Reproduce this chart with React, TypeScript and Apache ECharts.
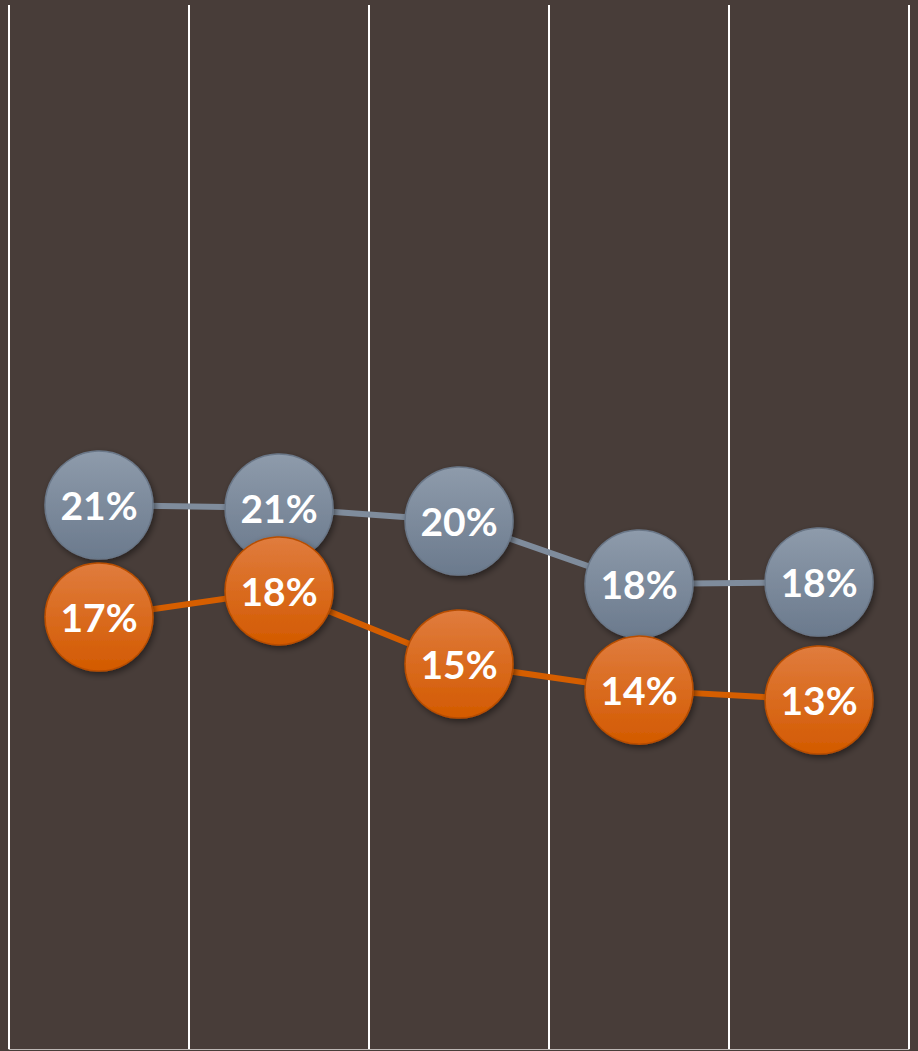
import React, { useEffect, useRef } from "react";
import * as echarts from "echarts";

const categories = ["A", "B", "C", "D", "E"];
const greySeries = [20.84, 20.73, 20.23, 17.82, 17.89];
const orangeSeries = [16.55, 17.55, 14.75, 13.75, 13.37];

export default function App() {
  const ref = useRef<HTMLDivElement>(null);
  useEffect(() => {
    if (!ref.current) return;
    const chart = echarts.init(ref.current, null, { renderer: "svg" });
    const labelCfg = {
      show: true,
      position: "inside",
      formatter: (p: any) => Math.round(p.value) + "%",
      color: "#ffffff",
      fontFamily: "Lato, 'Open Sans', sans-serif",
      fontWeight: "bold",
      fontSize: 39,
    };
    const mk = (name: string, data: number[], line: string, top: string, bot: string, border: string) => ({
      name,
      type: "line",
      data,
      symbol: "circle",
      symbolSize: 108,
      lineStyle: { color: line, width: 6 },
      itemStyle: {
        color: new echarts.graphic.LinearGradient(0, 0, 0, 1, [
          { offset: 0, color: top },
          { offset: 1, color: bot },
        ]),
        borderColor: border,
        borderWidth: 1.5,
        shadowColor: "rgba(0,0,0,0.45)",
        shadowBlur: 6,
        shadowOffsetX: 2,
        shadowOffsetY: 3,
      },
      label: labelCfg,
      emphasis: { disabled: true },
    });
    chart.setOption({
      animation: false,
      backgroundColor: "#483d39",
      grid: { left: 9, right: 9, top: 5, bottom: 2 },
      xAxis: {
        type: "category",
        data: categories,
        boundaryGap: true,
        axisLabel: { show: false },
        axisTick: { show: false },
        axisLine: { show: true, lineStyle: { color: "#bdb8b5", width: 1 } },
        splitLine: { show: true, lineStyle: { color: "#ffffff", width: 2 } },
      },
      yAxis: {
        type: "value",
        min: 0,
        max: 40,
        show: false,
        splitLine: { show: false },
      },
      series: [
        mk("grey", greySeries, "#7f8c9c", "#8e9bab", "#6b7a8d", "#6a7788"),
        mk("orange", orangeSeries, "#d55e00", "#e07c3e", "#d35a00", "#b84e00"),
      ],
    });
    return () => chart.dispose();
  }, []);
  return (
    <div
      ref={ref}
      style={{ position: "fixed", left: 0, top: 0, width: 918, height: 1051 }}
    />
  );
}
